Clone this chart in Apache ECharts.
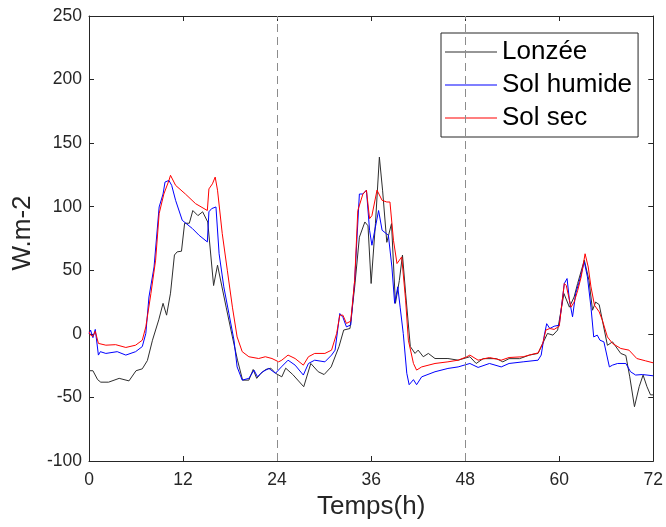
<!DOCTYPE html>
<html>
<head>
<meta charset="utf-8">
<script src="https://cdn.jsdelivr.net/npm/echarts@6/dist/echarts.min.js"></script>
<style>
html,body{margin:0;padding:0;background:#fff;}
#chart{width:666px;height:527px;}
</style>
</head>
<body>
<div id="chart"></div>
<script>
// Tick labels / axes
var xTicks = [0, 12, 24, 36, 48, 60, 72];
var yTicks = [-100, -50, 0, 50, 100, 150, 200, 250];
var dayMarks = [24, 48];
var seriesNames = ['Lonzée', 'Sol humide', 'Sol sec'];

// [hour, W.m-2]
var lonzee = [[0,-29],[0.5,-29],[1.1,-36],[1.5,-38],[2.5,-38],[3.85,-35],[5.1,-37],[6.0,-29],[6.8,-27.5],[7.45,-21],[8.1,-5],[8.9,11],[9.45,24],[9.9,14.7],[10.4,32],[10.9,62],[11.25,64.5],[11.8,65],[12.2,87],[12.8,87],[13.25,97],[13.9,93],[14.5,96],[15.15,88],[15.9,38],[16.4,54],[17.5,21],[18.3,-2.4],[18.95,-20.7],[19.6,-36.4],[20.4,-36.4],[20.95,-28],[21.4,-35],[21.95,-31],[22.55,-28],[23.2,-27],[23.8,-31],[24.6,-33.8],[25.1,-27],[26.0,-32],[27.4,-41.6],[28.3,-23.3],[29.25,-29.8],[30.0,-32],[30.9,-26],[31.9,-10],[32.5,3],[33.3,4.2],[33.9,37],[34.5,76],[35.2,88],[35.6,85],[36.0,39.6],[36.55,86.7],[37.05,139],[37.46,113],[38.0,72],[38.6,86.7],[39.1,24],[39.6,42],[40.0,62],[40.4,32],[41.0,-10],[41.6,-15.4],[42.0,-12.8],[42.65,-18],[43.3,-15.4],[44.15,-19.4],[45.8,-19.4],[47.1,-20.7],[48.6,-18],[49.4,-23.3],[50.3,-19.5],[52.0,-19.5],[52.8,-22],[53.6,-19.5],[54.95,-19.5],[56.2,-16.7],[57.3,-15.4],[57.9,-7.5],[58.5,0.3],[59.2,-1],[59.8,3],[60.6,31.7],[61.3,21],[61.9,29],[62.35,39.6],[63.2,58],[63.8,42],[64.25,18.6],[64.65,25],[65.1,23],[66.15,-9],[66.8,-6.3],[67.85,-15.4],[68.5,-17],[69.0,-33.8],[69.6,-57.3],[70.2,-41.6],[70.7,-32.4],[71.2,-41.6],[71.65,-48],[72,-48]];

var solHumide = [[0,0],[0.2,3],[0.5,-3],[0.8,3.5],[1.2,-16.7],[1.45,-14],[2.15,-15.4],[3.6,-14],[4.7,-16.7],[5.95,-14],[6.8,-10],[7.25,0.3],[7.65,29],[8.3,52.6],[8.95,99.8],[9.45,110],[9.7,119.4],[9.9,118],[10.2,120.7],[10.55,116.8],[11.05,105],[11.9,89.3],[13.2,82.8],[14.05,77.5],[15.1,72.3],[15.3,96],[15.65,98.5],[16.2,99.8],[16.6,63],[17.2,37],[17.85,16],[18.5,-5],[18.9,-26],[19.55,-36.4],[20.4,-35],[21.05,-28.5],[21.5,-33.8],[22.1,-30],[22.95,-27.2],[23.8,-31],[24.55,-26],[25.4,-20.7],[26.3,-24.6],[27.35,-32.4],[28.0,-23.3],[28.8,-20.7],[30.1,-22],[30.95,-16.7],[31.4,-12.8],[32.0,16],[32.4,13],[32.85,5.5],[33.4,7],[33.9,42],[34.5,110],[34.95,110],[35.4,113],[35.8,81.5],[36.1,69.7],[36.95,97],[37.4,81.5],[38.2,77.5],[38.65,52.6],[39.0,24],[39.4,37],[39.7,21],[40.1,0.3],[40.55,-31],[40.85,-40],[41.4,-36],[41.8,-40],[42.45,-33.8],[44.15,-29.8],[45.8,-27.2],[47.1,-26],[48.6,-23.3],[49.65,-26.4],[51.1,-23.3],[52.6,-26],[53.6,-23.3],[55.4,-22],[57.3,-20.7],[57.7,-16.7],[58.1,-1],[58.4,8],[58.8,4.2],[59.35,6],[60.0,6.8],[60.65,39.6],[61.0,43.5],[61.3,26.5],[61.7,13.4],[62.1,31.7],[62.55,41],[63.2,56.6],[63.6,44.8],[64.05,21],[64.4,-2.4],[64.85,-1],[65.2,-5],[65.7,-6.3],[66.4,-26],[66.8,-24.6],[67.45,-23.3],[68.5,-23.3],[69.1,-29.8],[69.75,-32.4],[70.6,-32],[71.2,-32.4],[72,-33]];

var solSec = [[0,1.6],[0.2,-1],[0.5,-2],[0.8,2],[1.2,-7.5],[2.15,-8.9],[3.4,-8.5],[4.7,-10.7],[5.95,-8.9],[6.8,-5],[7.25,5.5],[7.9,31.7],[8.5,58],[8.95,94.6],[9.55,110],[10.2,120.7],[10.4,124.7],[11.05,116.8],[12.3,110],[13.6,102.4],[15.1,97],[15.3,114],[15.75,118],[16.1,123.3],[16.4,113],[17.0,79],[17.65,50],[18.3,21],[18.9,-2.4],[19.55,-14],[20.4,-18],[21.65,-19.4],[22.5,-18],[23.35,-19.4],[24.2,-22],[24.6,-20.7],[25.4,-16.7],[26.3,-19.4],[27.35,-24.6],[28.0,-18],[28.8,-15.4],[30.1,-15.4],[30.95,-12.8],[31.6,0.3],[32.0,14.7],[32.4,14.7],[32.85,8.2],[33.4,10],[33.9,42],[34.3,97],[34.95,110],[35.4,113],[35.8,90.6],[36.1,93],[36.75,113],[37.4,105],[38.0,103.7],[38.4,103.7],[38.85,73.6],[39.3,55.3],[39.9,60.5],[40.4,26.5],[40.75,-5],[41.4,-23.3],[41.8,-28.5],[42.45,-26],[44.15,-23.3],[45.8,-22],[47.1,-20.7],[48.2,-18],[48.6,-16.7],[49.65,-20.7],[51.1,-18.6],[52.6,-20.7],[53.6,-18.6],[55.4,-18],[56.6,-16],[57.3,-15],[57.9,-7.5],[58.3,3],[58.8,4.2],[59.35,3.5],[60.0,6],[60.65,39.6],[60.9,38],[61.5,21],[61.9,25],[62.35,34],[62.8,44.8],[63.3,63],[63.7,52.6],[64.05,37],[64.5,22.5],[65.1,17.3],[65.5,10.8],[66.15,-2.4],[66.8,-7.5],[67.85,-11.5],[68.9,-12.8],[69.9,-19.4],[71.0,-21.2],[72,-22.8]];

var FONT = '"Liberation Sans", Arial, Helvetica, sans-serif';
var AX = '#262626';

var chart = echarts.init(document.getElementById('chart'), null, {renderer: 'canvas'});

function axisCommon() {
  return {
    axisLine: {show: true, onZero: false, lineStyle: {color: AX, width: 1}},
    axisTick: {show: true, inside: true, length: 5, lineStyle: {color: AX}},
    splitLine: {show: false}
  };
}

var xMain = Object.assign(axisCommon(), {
  type: 'value', min: xTicks[0], max: xTicks[xTicks.length - 1], interval: 12, position: 'bottom',
  axisLabel: {fontSize: 17.5, color: AX, fontFamily: FONT, margin: 10},
  name: 'Temps(h)', nameLocation: 'middle', nameGap: 33,
  nameTextStyle: {fontSize: 26, color: AX, fontFamily: FONT}
});
var xTop = Object.assign(axisCommon(), {
  type: 'value', min: xTicks[0], max: xTicks[xTicks.length - 1], interval: 12, position: 'top',
  axisLabel: {show: false}
});
var yMain = Object.assign(axisCommon(), {
  type: 'value', min: yTicks[0], max: yTicks[yTicks.length - 1], interval: 50, position: 'left',
  axisLabel: {fontSize: 17.5, color: AX, fontFamily: FONT, margin: 7},
  name: 'W.m-2', nameLocation: 'middle', nameGap: 50, nameRotate: 90,
  nameTextStyle: {fontSize: 26, color: AX, fontFamily: FONT, padding: [0, 0, 0, 11]}
});
var yRight = Object.assign(axisCommon(), {
  type: 'value', min: yTicks[0], max: yTicks[yTicks.length - 1], interval: 50, position: 'right',
  axisLabel: {show: false}
});

function lineSeries(name, data, color, extra) {
  return Object.assign({
    name: name, type: 'line', data: data, xAxisIndex: 0, yAxisIndex: 0,
    symbol: 'none', showSymbol: false, smooth: false,
    lineStyle: {color: color, width: 1}, itemStyle: {color: color},
    z: 3
  }, extra || {});
}

var option = {
  animation: false,
  backgroundColor: '#fff',
  grid: {left: 89, right: 10, top: 16, bottom: 66, containLabel: false},
  xAxis: [xMain, xTop],
  yAxis: [yMain, yRight],
  legend: {
    orient: 'vertical', left: 441, top: 33,
    data: seriesNames.map(function (n) { return {name: n, icon: 'rect'}; }),
    itemWidth: 52, itemHeight: 1, itemGap: 7,
    padding: [6, 6, 6, 4],
    borderColor: AX, borderWidth: 1, backgroundColor: '#fff',
    textStyle: {fontSize: 26, color: '#000', fontFamily: FONT, lineHeight: 26}
  },
  series: [
    lineSeries(seriesNames[0], lonzee, '#2e2e2e', {
      markLine: {
        silent: true, symbol: ['none', 'none'], label: {show: false},
        lineStyle: {color: '#8c8c8c', type: [8, 5], width: 1},
        data: dayMarks.map(function (d) { return {xAxis: d}; })
      }
    }),
    lineSeries(seriesNames[1], solHumide, '#0000ff'),
    lineSeries(seriesNames[2], solSec, '#ff0000')
  ]
};
chart.setOption(option);
</script>
</body>
</html>
